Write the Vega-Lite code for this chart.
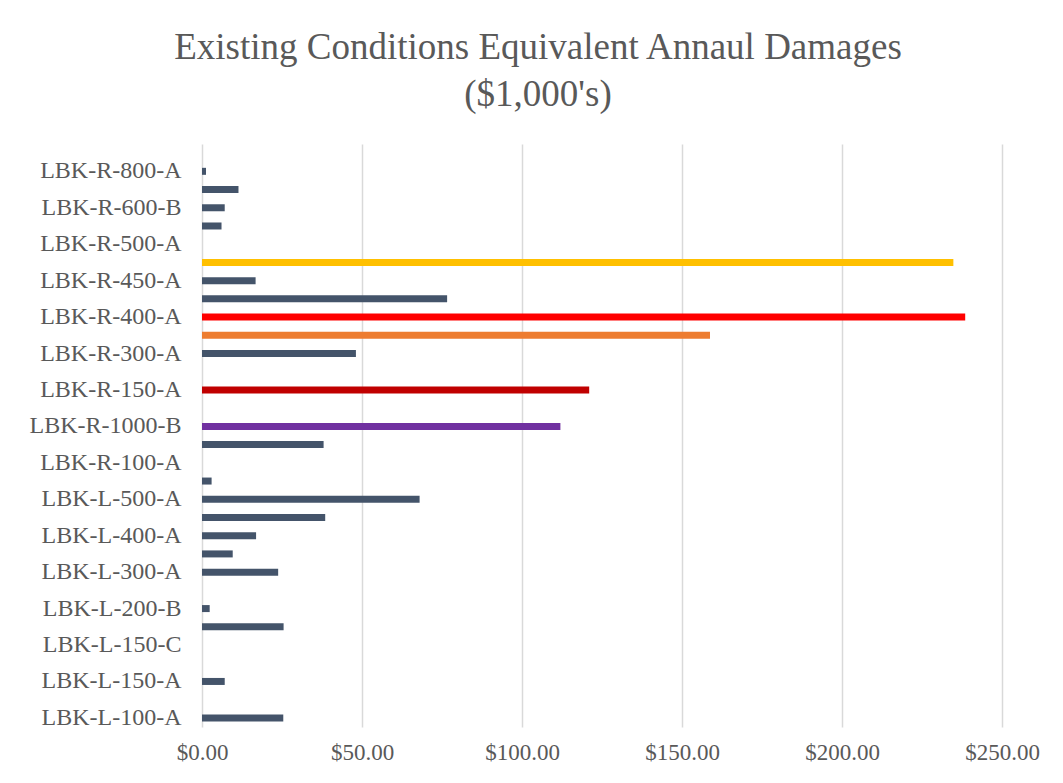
{
  "$schema": "https://vega.github.io/schema/vega-lite/v6.json",
  "autosize": {"type": "none"},
  "width": 800,
  "height": 583,
  "padding": {"left": 202, "top": 144, "right": 61, "bottom": 56},
  "background": "white",
  "title": {
    "text": ["Existing Conditions Equivalent Annaul Damages", "($1,000's)"],
    "font": "Liberation Serif",
    "fontSize": 37,
    "fontWeight": "normal",
    "color": "#595959",
    "lineHeight": 47,
    "anchor": "middle",
    "dx": -64,
    "offset": 30
  },
  "data": {
    "values": [
      {"reach": "LBK-R-900-A", "damages": 0, "rank": "other"},
      {"reach": "LBK-R-800-A", "damages": 1.25, "rank": "other"},
      {"reach": "LBK-R-700-A", "damages": 11.4, "rank": "other"},
      {"reach": "LBK-R-600-B", "damages": 7.1, "rank": "other"},
      {"reach": "LBK-R-600-A", "damages": 6.1, "rank": "other"},
      {"reach": "LBK-R-500-A", "damages": 0, "rank": "other"},
      {"reach": "LBK-R-450-B", "damages": 234.8, "rank": "2nd"},
      {"reach": "LBK-R-450-A", "damages": 16.75, "rank": "other"},
      {"reach": "LBK-R-400-B", "damages": 76.6, "rank": "other"},
      {"reach": "LBK-R-400-A", "damages": 238.5, "rank": "1st"},
      {"reach": "LBK-R-350-A", "damages": 158.75, "rank": "3rd"},
      {"reach": "LBK-R-300-A", "damages": 48.1, "rank": "other"},
      {"reach": "LBK-R-200-A", "damages": 0, "rank": "other"},
      {"reach": "LBK-R-150-A", "damages": 121.0, "rank": "4th"},
      {"reach": "LBK-R-125-A", "damages": 0, "rank": "other"},
      {"reach": "LBK-R-1000-B", "damages": 112.0, "rank": "5th"},
      {"reach": "LBK-R-1000-A", "damages": 38.0, "rank": "other"},
      {"reach": "LBK-R-100-A", "damages": 0, "rank": "other"},
      {"reach": "LBK-L-600-A", "damages": 3.0, "rank": "other"},
      {"reach": "LBK-L-500-A", "damages": 68.0, "rank": "other"},
      {"reach": "LBK-L-450-A", "damages": 38.5, "rank": "other"},
      {"reach": "LBK-L-400-A", "damages": 16.9, "rank": "other"},
      {"reach": "LBK-L-350-A", "damages": 9.6, "rank": "other"},
      {"reach": "LBK-L-300-A", "damages": 23.8, "rank": "other"},
      {"reach": "LBK-L-250-A", "damages": 0, "rank": "other"},
      {"reach": "LBK-L-200-B", "damages": 2.4, "rank": "other"},
      {"reach": "LBK-L-200-A", "damages": 25.5, "rank": "other"},
      {"reach": "LBK-L-150-C", "damages": 0, "rank": "other"},
      {"reach": "LBK-L-150-B", "damages": 0, "rank": "other"},
      {"reach": "LBK-L-150-A", "damages": 7.1, "rank": "other"},
      {"reach": "LBK-L-100-B", "damages": 0, "rank": "other"},
      {"reach": "LBK-L-100-A", "damages": 25.4, "rank": "other"}
    ]
  },
  "mark": {"type": "bar", "size": 7},
  "encoding": {
    "y": {
      "field": "reach",
      "type": "nominal",
      "sort": null,
      "scale": {"paddingInner": 0, "paddingOuter": 0},
      "axis": {
        "title": null,
        "values": ["LBK-R-800-A", "LBK-R-600-B", "LBK-R-500-A", "LBK-R-450-A", "LBK-R-400-A", "LBK-R-300-A", "LBK-R-150-A", "LBK-R-1000-B", "LBK-R-100-A", "LBK-L-500-A", "LBK-L-400-A", "LBK-L-300-A", "LBK-L-200-B", "LBK-L-150-C", "LBK-L-150-A", "LBK-L-100-A"],
        "ticks": false,
        "domain": false,
        "grid": false,
        "labelFont": "Liberation Serif",
        "labelFontSize": 24,
        "labelColor": "#595959",
        "labelPadding": 21
      }
    },
    "x": {
      "field": "damages",
      "type": "quantitative",
      "scale": {"domain": [0, 250], "nice": false},
      "axis": {
        "title": null,
        "values": [0, 50, 100, 150, 200, 250],
        "format": "$.2f",
        "ticks": false,
        "domain": false,
        "grid": true,
        "gridColor": "#D9D9D9",
        "gridWidth": 1.5,
        "labelFont": "Liberation Serif",
        "labelFontSize": 23,
        "labelColor": "#595959",
        "labelPadding": 14,
        "labelFlush": false
      }
    },
    "color": {
      "field": "rank",
      "type": "nominal",
      "legend": null,
      "scale": {
        "domain": ["1st", "2nd", "3rd", "4th", "5th", "other"],
        "range": ["#FF0000", "#FFC000", "#ED7D31", "#C00000", "#7030A0", "#44546A"]
      }
    }
  },
  "config": {"view": {"stroke": null}}
}
